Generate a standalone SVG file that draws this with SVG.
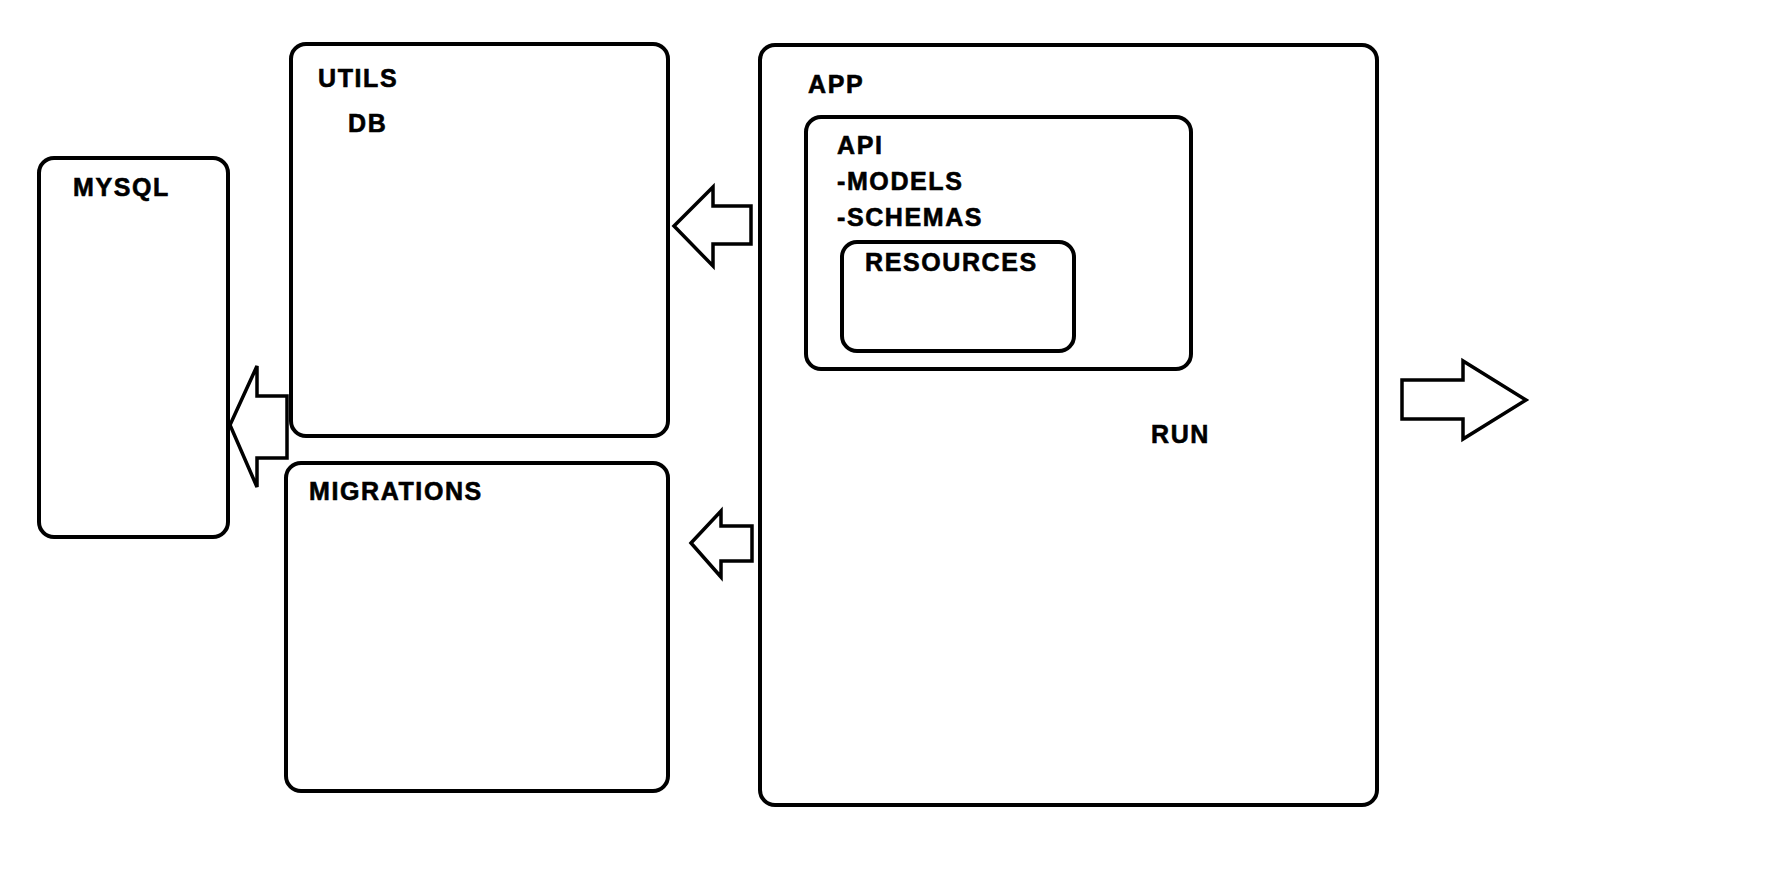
<svg xmlns="http://www.w3.org/2000/svg" width="1770" height="877" viewBox="0 0 1770 877">
<style>
.box{fill:none;stroke:#000;stroke-width:4}
.arr{fill:#fff;stroke:#000;stroke-width:3.5;stroke-linejoin:miter}
.lbl{font-family:"Liberation Sans",Arial,sans-serif;font-weight:bold;font-size:25px;letter-spacing:1.6px;fill:#000;stroke:#000;stroke-width:0.6}
</style>
<rect width="1770" height="877" fill="#fff"/>
<g id="connectors">
<polygon class="arr" points="230,425 257,366 257,396 287,396 287,458 257,458 257,487"/>
<polygon class="arr" points="674,226 713,187 713,206 751,206 751,244 713,244 713,266"/>
<polygon class="arr" points="691,543 721,511 721,526 752,526 752,561 721,561 721,577"/>
<polygon class="arr" points="1526,400 1463,361 1463,380 1402,380 1402,419 1463,419 1463,439"/>
</g>
<g id="mysql">
<rect class="box" x="39" y="158" width="189" height="379" rx="15"/>
<text class="lbl" x="73" y="196">MYSQL</text>
</g>
<g id="utils">
<rect class="box" x="291" y="44" width="377" height="392" rx="15"/>
<text class="lbl" x="318" y="87">UTILS</text>
<text class="lbl" x="348" y="132">DB</text>
</g>
<g id="migrations">
<rect class="box" x="286" y="463" width="382" height="328" rx="15"/>
<text class="lbl" x="309" y="500">MIGRATIONS</text>
</g>
<g id="app">
<rect class="box" x="760" y="45" width="617" height="760" rx="15"/>
<text class="lbl" x="808" y="93">APP</text>
<text class="lbl" x="1151" y="443">RUN</text>
</g>
<g id="api">
<rect class="box" x="806" y="117" width="385" height="252" rx="15"/>
<text class="lbl" x="837" y="154">API</text>
<text class="lbl" x="837" y="190">-MODELS</text>
<text class="lbl" x="837" y="226">-SCHEMAS</text>
</g>
<g id="resources">
<rect class="box" x="842" y="242" width="232" height="109" rx="15"/>
<text class="lbl" x="865" y="271">RESOURCES</text>
</g>
</svg>
